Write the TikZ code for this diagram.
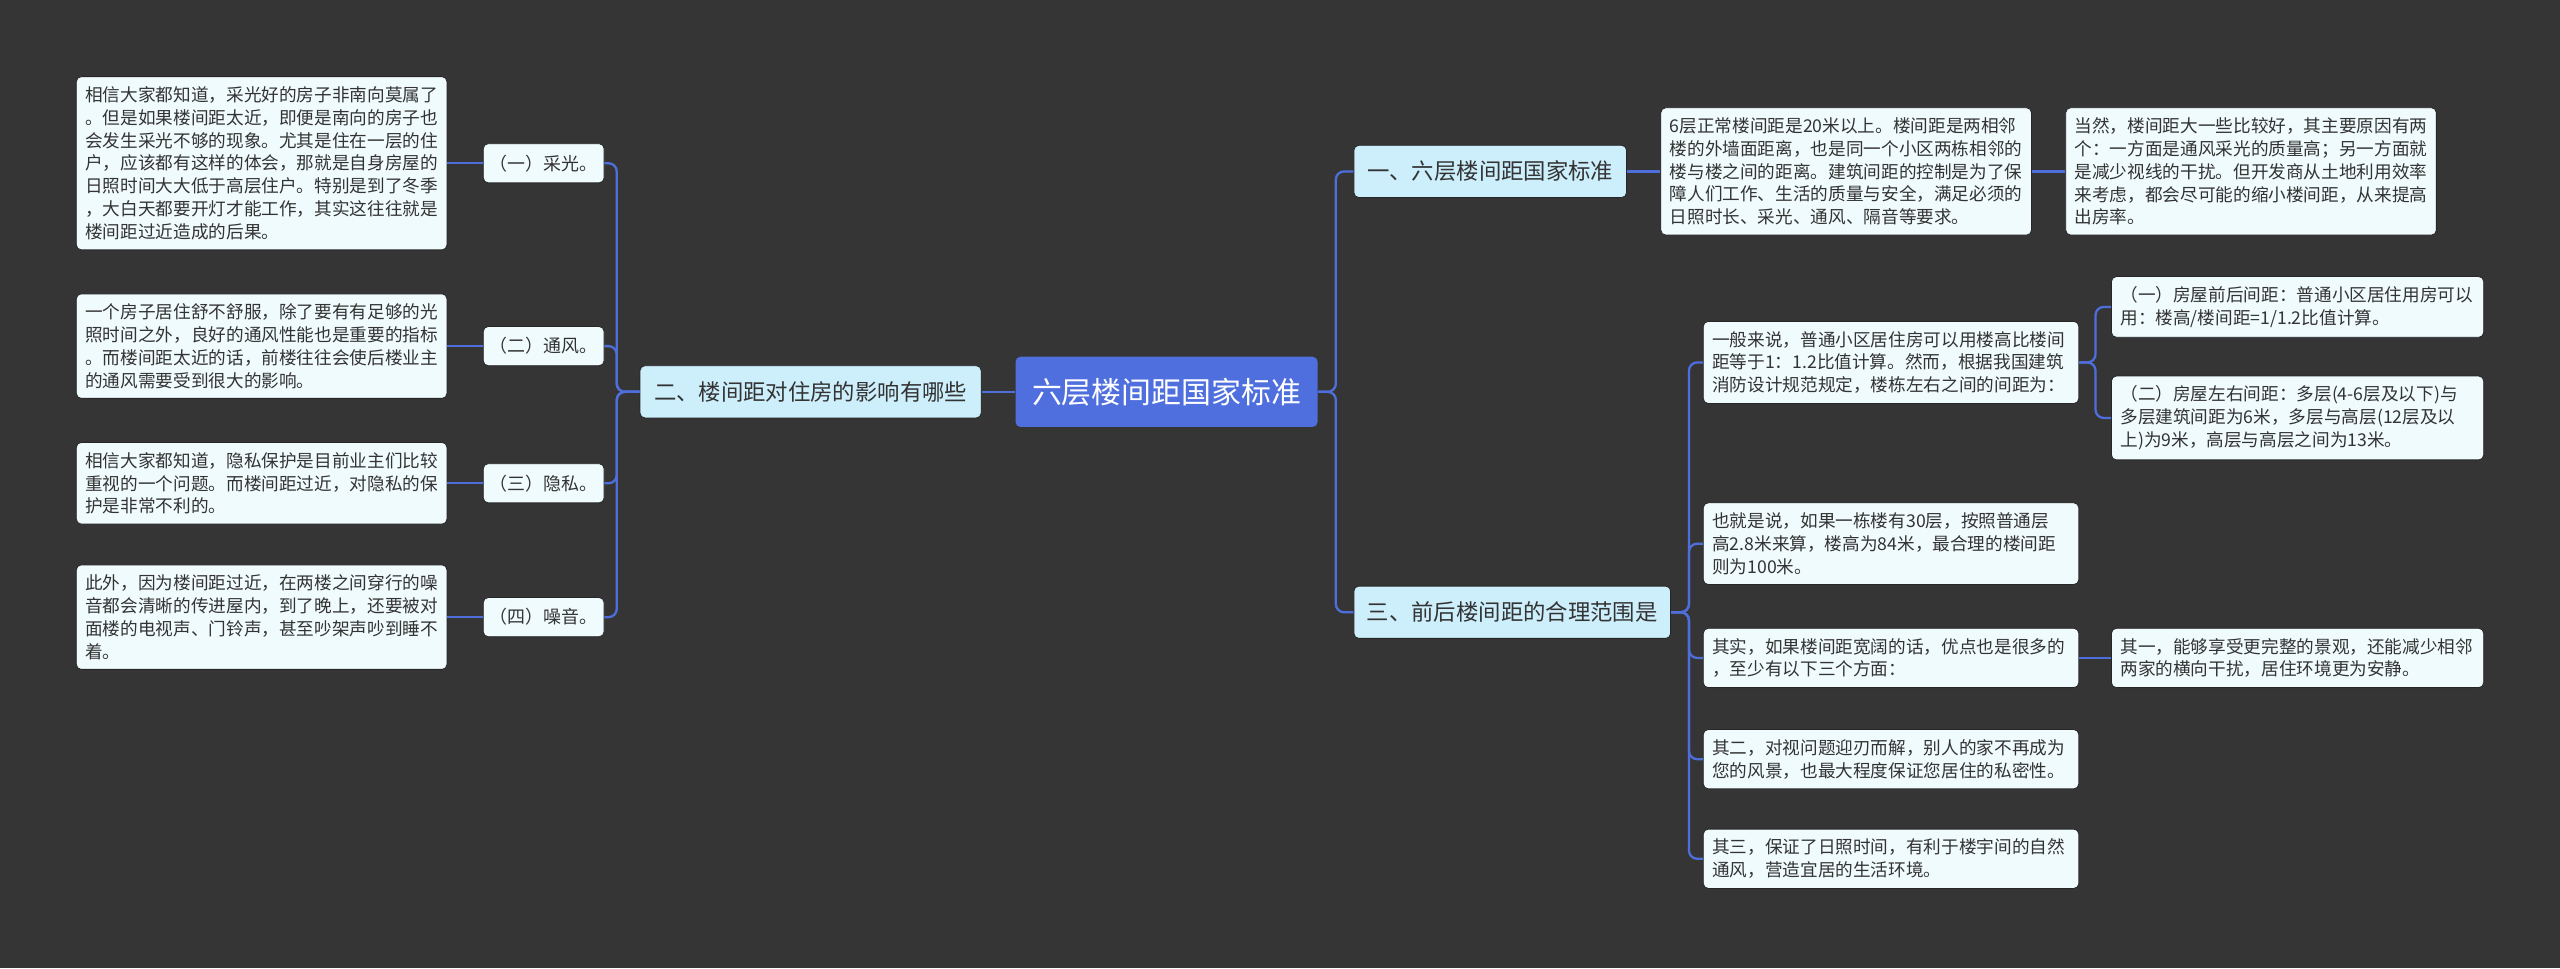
\documentclass[tikz,border=0pt]{standalone}
\usepackage{fontspec}
\setmainfont{Noto Sans CJK SC}
\definecolor{bg}{HTML}{363536}
\definecolor{conncol}{HTML}{4E6FDB}
\definecolor{cfill}{HTML}{4F6FDE}
\definecolor{lfill}{HTML}{CDEEFB}
\definecolor{bfill}{HTML}{F0FBFD}
\definecolor{txt}{HTML}{333333}
\definecolor{edge}{HTML}{262626}
\tikzset{
  conn/.style={draw=conncol, line width=1.4pt, rounded corners=5pt},
  central/.style={fill=cfill, rounded corners=3pt, text=white, inner sep=0pt,
    font=\fontsize{18.3}{22}\selectfont, minimum width=185pt, minimum height=43pt},
  lvl/.style={fill=lfill, draw=edge, line width=0.5pt, rounded corners=3pt, text=txt, inner sep=0pt,
    font=\fontsize{13.7}{16}\selectfont, minimum height=32pt},
  subn/.style={fill=bfill, draw=edge, line width=0.5pt, rounded corners=3pt, text=txt, inner sep=0pt,
    font=\fontsize{11}{13}\selectfont, minimum width=74pt, minimum height=24pt},
  box/.style={fill=bfill, draw=edge, line width=0.5pt, rounded corners=3pt, text=txt, align=left,
    inner xsep=5.5pt, inner ysep=6pt, text width=#1,
    font=\fontsize{10.8}{14}\selectfont},
  box/.default=216pt
}
\begin{document}
\begin{tikzpicture}[x=1pt,y=-1pt]
\fill[bg] (0,0) rectangle (1568,593);
\useasboundingbox (0,0) rectangle (1568,593);

% central
\node[central] (C) at (714.5,240) {六层楼间距国家标准};

% left side
\node[lvl, minimum width=209pt] (L) at (496.5,240) {二、楼间距对住房的影响有哪些};
\node[subn] (s1) at (333,100) {（一）采光。};
\node[subn] (s2) at (333,212) {（二）通风。};
\node[subn] (s3) at (333,296) {（三）隐私。};
\node[subn] (s4) at (333,378) {（四）噪音。};

\node[box, anchor=east] (b1) at (274,100) {相信大家都知道，采光好的房子非南向莫属了\\。但是如果楼间距太近，即便是南向的房子也\\会发生采光不够的现象。尤其是住在一层的住\\户，应该都有这样的体会，那就是自身房屋的\\日照时间大大低于高层住户。特别是到了冬季\\，大白天都要开灯才能工作，其实这往往就是\\楼间距过近造成的后果。};
\node[box, anchor=east] (b2) at (274,212) {一个房子居住舒不舒服，除了要有有足够的光\\照时间之外，良好的通风性能也是重要的指标\\。而楼间距太近的话，前楼往往会使后楼业主\\的通风需要受到很大的影响。};
\node[box, anchor=east] (b3) at (274,296) {相信大家都知道，隐私保护是目前业主们比较\\重视的一个问题。而楼间距过近，对隐私的保\\护是非常不利的。};
\node[box, anchor=east] (b4) at (274,378) {此外，因为楼间距过近，在两楼之间穿行的噪\\音都会清晰的传进屋内，到了晚上，还要被对\\面楼的电视声、门铃声，甚至吵架声吵到睡不\\着。};

% right side
\node[lvl, minimum width=167pt, anchor=west] (R1) at (829,105) {一、六层楼间距国家标准};
\node[lvl, minimum width=194pt, anchor=west] (R3) at (829,375) {三、前后楼间距的合理范围是};

\node[box, anchor=west] (A) at (1017,105) {6层正常楼间距是20米以上。楼间距是两相邻\\楼的外墙面距离，也是同一个小区两栋相邻的\\楼与楼之间的距离。建筑间距的控制是为了保\\障人们工作、生活的质量与安全，满足必须的\\日照时长、采光、通风、隔音等要求。};
\node[box, anchor=west] (B) at (1265,105) {当然，楼间距大一些比较好，其主要原因有两\\个：一方面是通风采光的质量高；另一方面就\\是减少视线的干扰。但开发商从土地利用效率\\来考虑，都会尽可能的缩小楼间距，从来提高\\出房率。};

\node[box=219pt, anchor=west] (P) at (1043,222) {一般来说，普通小区居住房可以用楼高比楼间\\距等于1：1.2比值计算。然而，根据我国建筑\\消防设计规范规定，楼栋左右之间的间距为：};
\node[box=217pt, anchor=west] (D1) at (1293,188) {（一）房屋前后间距：普通小区居住用房可以\\用：楼高/楼间距=1/1.2比值计算。};
\node[box=217pt, anchor=west] (D2) at (1293,256) {（二）房屋左右间距：多层(4-6层及以下)与\\多层建筑间距为6米，多层与高层(12层及以\\上)为9米，高层与高层之间为13米。};
\node[box=219pt, anchor=west] (E) at (1043,333) {也就是说，如果一栋楼有30层，按照普通层\\高2.8米来算，楼高为84米，最合理的楼间距\\则为100米。};
\node[box=219pt, anchor=west] (F) at (1043,403) {其实，如果楼间距宽阔的话，优点也是很多的\\，至少有以下三个方面：};
\node[box=217pt, anchor=west] (G) at (1293,403) {其一，能够享受更完整的景观，还能减少相邻\\两家的横向干扰，居住环境更为安静。};
\node[box=219pt, anchor=west] (H) at (1043,465) {其二，对视问题迎刃而解，别人的家不再成为\\您的风景，也最大程度保证您居住的私密性。};
\node[box=219pt, anchor=west] (I) at (1043,526) {其三，保证了日照时间，有利于楼宇间的自然\\通风，营造宜居的生活环境。};

% connectors
\draw[conn] (C.west) -- (L.east);
\draw[conn] (L.west) -- ++(-14,0) |- (s1.east);
\draw[conn] (L.west) -- ++(-14,0) |- (s2.east);
\draw[conn] (L.west) -- ++(-14,0) |- (s3.east);
\draw[conn] (L.west) -- ++(-14,0) |- (s4.east);
\draw[conn] (s1.west) -- (b1.east);
\draw[conn] (s2.west) -- (b2.east);
\draw[conn] (s3.west) -- (b3.east);
\draw[conn] (s4.west) -- (b4.east);

\draw[conn] (C.east) -- ++(11,0) |- (R1.west);
\draw[conn] (C.east) -- ++(11,0) |- (R3.west);
\draw[conn] (R1.east) -- (A.west);
\draw[conn] (A.east) -- (B.west);

\draw[conn] (R3.east) -- ++(11,0) |- (P.west);
\draw[conn] (R3.east) -- ++(11,0) |- (E.west);
\draw[conn] (R3.east) -- ++(11,0) |- (F.west);
\draw[conn] (R3.east) -- ++(11,0) |- (H.west);
\draw[conn] (R3.east) -- ++(11,0) |- (I.west);
\draw[conn] (P.east) -- ++(10,0) |- (D1.west);
\draw[conn] (P.east) -- ++(10,0) |- (D2.west);
\draw[conn] (F.east) -- (G.west);
\end{tikzpicture}
\end{document}
